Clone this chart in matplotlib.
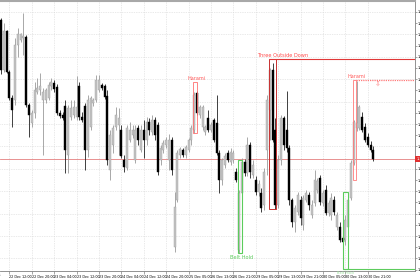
import numpy as np
import matplotlib
matplotlib.use('Agg')
import matplotlib.pyplot as plt
from matplotlib.patches import Rectangle
from matplotlib.transforms import blended_transform_factory

# H1 candles, values in pips (0.00005) above base price
base = 1.3400
pip = 0.00005

opens = [280, 230, 269, 228, 202, 200, 255, 260, 262, 263, 195, 177, 187, 208, 210, 200, 200, 202, 214, 217,
         213, 187, 185, 194, 145, 183, 185, 183, 214, 183, 194, 150, 173, 197, 200, 210, 215, 214, 204, 130,
         155, 173, 175, 170, 140, 132, 160, 165, 140, 172, 150, 170, 160, 178, 168, 180, 175, 140, 150, 155,
         140, 160, 53, 100, 145, 150, 145, 150, 160, 170, 207, 185, 173, 168, 182, 170, 180, 177, 147, 120,
         135, 147, 138, 140, 128, 50, 107, 138, 127, 155, 125, 120, 108, 107, 95, 150, 190, 230, 170, 95,
         140, 182, 170, 152, 100, 78, 88, 100, 75, 100, 105, 85, 97, 110, 122, 97, 110, 87, 85, 100,
         73, 73, 62, 60, 73, 102, 137, 172, 172, 183, 173, 163, 155, 150]
highs = [282, 277, 270, 230, 205, 262, 272, 267, 287, 265, 197, 190, 218, 222, 227, 212, 212, 218, 222, 220,
         216, 190, 188, 200, 195, 200, 200, 224, 218, 188, 197, 205, 204, 202, 225, 225, 217, 216, 210, 170,
         175, 193, 192, 175, 145, 175, 178, 175, 175, 175, 175, 180, 183, 182, 185, 183, 178, 155, 160, 163,
         166, 163, 108, 150, 153, 152, 155, 162, 175, 208, 209, 195, 195, 175, 190, 178, 182, 205, 150, 142,
         147, 150, 152, 150, 132, 110, 142, 141, 163, 158, 140, 124, 120, 112, 132, 205, 232, 237, 182, 145,
         185, 184, 209, 155, 102, 95, 108, 104, 105, 110, 108, 100, 130, 122, 125, 110, 115, 100, 107, 104,
         88, 78, 64, 85, 102, 140, 180, 219, 195, 188, 177, 167, 159, 154]
lows = [226, 228, 227, 200, 173, 195, 243, 258, 245, 193, 163, 173, 182, 206, 205, 145, 197, 200, 210, 208,
        185, 182, 180, 127, 127, 180, 182, 180, 180, 178, 130, 143, 170, 194, 198, 208, 210, 201, 135, 120,
        147, 170, 145, 142, 128, 130, 158, 162, 137, 155, 148, 142, 155, 165, 165, 160, 125, 135, 147, 152,
        130, 125, 48, 98, 142, 143, 142, 148, 155, 167, 185, 182, 170, 165, 168, 168, 158, 145, 107, 115,
        132, 138, 135, 137, 118, 47, 104, 124, 124, 122, 122, 105, 104, 88, 90, 125, 160, 158, 91, 92,
        135, 150, 148, 95, 73, 68, 85, 75, 70, 98, 90, 82, 94, 107, 95, 94, 85, 84, 80, 85,
        70, 58, 50, 55, 70, 100, 135, 169, 170, 168, 158, 153, 148, 139]
closes = [230, 269, 228, 202, 190, 255, 266, 266, 264, 195, 185, 187, 210, 212, 214, 208, 210, 215, 218, 211,
          187, 184, 182, 150, 192, 192, 193, 193, 183, 180, 150, 200, 202, 200, 220, 220, 212, 203, 140, 165,
          172, 185, 182, 144, 133, 172, 170, 170, 170, 160, 170, 160, 178, 170, 180, 165, 128, 152, 157, 160,
          160, 130, 93, 147, 151, 145, 153, 160, 172, 205, 187, 193, 193, 173, 170, 175, 160, 147, 120, 140,
          144, 140, 148, 147, 120, 107, 138, 127, 155, 128, 135, 108, 116, 92, 128, 200, 230, 160, 95, 140,
          182, 155, 152, 100, 78, 92, 105, 82, 102, 107, 95, 95, 120, 119, 98, 107, 87, 97, 102, 88,
          85, 60, 58, 80, 100, 137, 178, 177, 193, 170, 160, 155, 150, 141]

time_labels = ['22 Dec 12:00', '22 Dec 20:00', '23 Dec 04:00', '23 Dec 12:00', '23 Dec 20:00',
               '24 Dec 04:00', '24 Dec 12:00', '24 Dec 20:00', '25 Dec 05:00', '26 Dec 13:00',
               '26 Dec 21:00', '29 Dec 05:00', '29 Dec 13:00', '29 Dec 21:00', '30 Dec 05:00',
               '30 Dec 13:00', '30 Dec 21:00']
first_label = '22 Dec 2025'


def price(v):
    return base + np.asarray(v, dtype=float) * pip


o = price(opens); h = price(highs); l = price(lows); c = price(closes)
n = len(o)
x = np.arange(n)
up = c >= o

fig = plt.figure(figsize=(4.2, 2.8), dpi=100)
ax = fig.add_axes([0.0, 0.03214, 0.98810, 0.96429])
ax.set_xlim(-0.357, 147.86)
ax.set_ylim(price(29), price(299))

# grid
tick_bars = 3 + 8 * np.arange(len(time_labels))
yt = price(288 - 11.2 * np.arange(24))
for xb in tick_bars:
    ax.axvline(xb, color='#d4d4d4', lw=0.5, ls=(0, (1, 1.5)), zorder=0)
for yv in yt[::2]:
    ax.axhline(yv, color='#d4d4d4', lw=0.5, ls=(0, (1, 1.5)), zorder=0)

# candles
ax.vlines(x[up], l[up], h[up], color='#9a9a9a', lw=0.6, zorder=2)
ax.vlines(x[~up], l[~up], h[~up], color='#202020', lw=0.6, zorder=2)
body = np.where(np.abs(c - o) < pip * 0.6, pip * 0.6, c - o)
ax.bar(x[up], body[up], bottom=o[up], width=0.72, color='#c4c4c4', edgecolor='#a0a0a0', lw=0.3, zorder=3)
ax.bar(x[~up], body[~up], bottom=o[~up], width=0.72, color='black', edgecolor='black', lw=0.3, zorder=3)

# current price line and tag
ax.axhline(c[-1], color='#e48080', lw=0.6, zorder=1)
tr = blended_transform_factory(ax.transAxes, ax.transData)
ax.text(1.003, c[-1], f'{c[-1]:.5f}', transform=tr, fontsize=2.6, color='white', va='center', ha='left',
        bbox=dict(fc='#e03030', ec='none', pad=0.6), clip_on=False, zorder=6)

fs = 3.6
# Harami 1
ax.add_patch(Rectangle((68.6, price(167)), 1.4, price(218) - price(167), fill=False, ec='#ff7070', lw=0.6, zorder=4))
ax.text(70.0, price(219), 'Harami', fontsize=fs, color='#ff5a5a', ha='center', va='bottom', zorder=5)

# Three Outside Down
ax.add_patch(Rectangle((95.7, price(91)), 2.5, price(241) - price(91), fill=False, ec='#c83030', lw=0.7, zorder=4))
ax.hlines(price(241), 95.7, 147.86, color='#e03838', lw=0.8, zorder=4)
ax.text(100.7, price(242), 'Three Outside Down', fontsize=fs, color='#ff4a4a', ha='center', va='bottom', zorder=5)

# Belt Hold 1
ax.add_patch(Rectangle((84.6, price(47)), 1.5, price(140) - price(47), fill=False, ec='#5ccc5c', lw=0.8, zorder=4))
ax.text(86.0, price(45), 'Belt Hold', fontsize=fs, color='#5ccc5c', ha='center', va='top', zorder=5)

# Belt Hold 2
ax.add_patch(Rectangle((122.0, price(31)), 2.1, price(108) - price(31), fill=False, ec='#5ccc5c', lw=0.8, zorder=4))
ax.hlines(price(31), 122.0, 147.86, color='#5ccc5c', lw=0.8, zorder=4)
ax.text(123.0, price(29.5), 'Belt Hold', fontsize=2.6, color='#9be09b', ha='center', va='top', clip_on=False, zorder=5)

# Harami 2
ax.add_patch(Rectangle((125.7, price(120)), 1.1, price(220) - price(120), fill=False, ec='#ff7a7a', lw=0.6, zorder=4))
ax.hlines(price(220), 126.8, 147.86, color='#ff7a7a', lw=0.9, ls=(0, (1, 0.8)), zorder=4)
ax.text(127.0, price(221), 'Harami', fontsize=fs, color='#ff5a5a', ha='center', va='bottom', zorder=5)
ax.text(134.6, price(219.5), '\u21e9', fontsize=5, color='#ff7a7a', ha='center', va='top', zorder=5)

# axes style
ax.spines['left'].set_visible(False)
ax.spines['top'].set_color('#a8a8a8')
ax.spines['top'].set_linewidth(1.5)
ax.spines['bottom'].set_color('#808080')
ax.spines['right'].set_color('#808080')
ax.spines['bottom'].set_linewidth(0.6)
ax.spines['right'].set_linewidth(0.6)

ax.set_xticks(tick_bars)
ax.set_xticklabels(time_labels)
for t in ax.get_xticklabels():
    t.set_ha('left')
ax.tick_params(axis='x', direction='out', length=2, width=0.5, color='#808080', labelsize=2.4, pad=0.8)
ax.text(-0.2, -0.008, first_label, transform=blended_transform_factory(ax.transData, ax.transAxes),
        fontsize=2.4, ha='right', va='top', clip_on=False)

# price scale: the label hidden behind the current-price tag is left blank
ax.yaxis.tick_right()
ax.set_yticks(yt)
near = np.argmin(np.abs(yt - c[-1]))
ax.set_yticklabels(['' if i == near else f'{v:.5f}' for i, v in enumerate(yt)])
ax.tick_params(axis='y', direction='out', length=1.5, width=0.5, color='#808080', labelsize=2.6, pad=0.6)

fig.savefig('out.png', dpi=100)
